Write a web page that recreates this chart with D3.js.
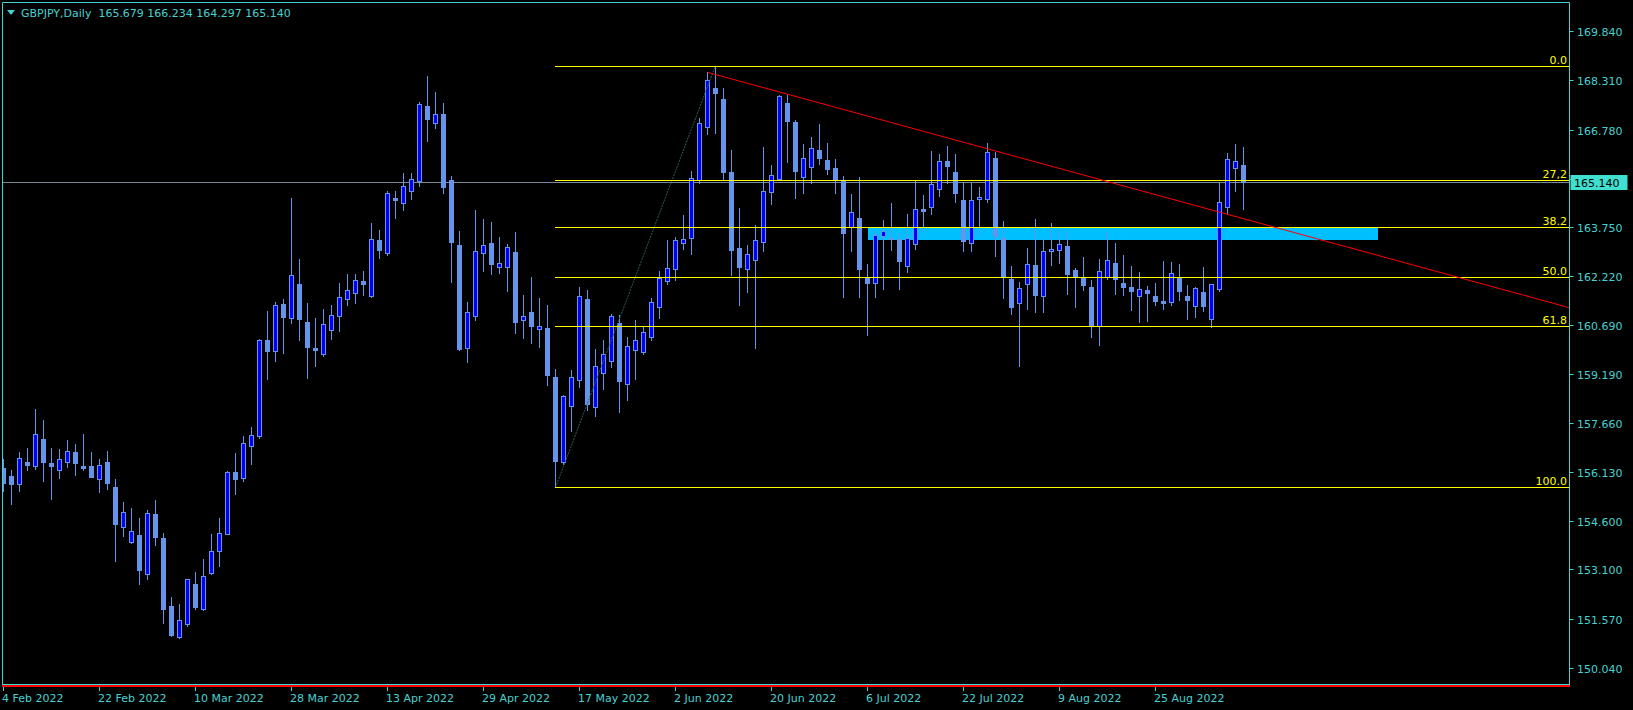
<!DOCTYPE html>
<html><head><meta charset="utf-8">
<script src="https://cdn.jsdelivr.net/npm/d3@7"></script>
<style>html,body{margin:0;padding:0;background:#000;overflow:hidden}</style>
</head><body><svg id="c" width="1633" height="710"></svg>
<script>
const chartTitle = "GBPJPY,Daily";
const openP = [
156.24,156.01,155.77,156.44,156.33,157.16,156.41,156.18,156.43,156.75,
156.32,156.32,155.92,156.44,155.66,154.43,153.96,154.17,152.97,154.83,
154.08,151.96,151.01,151.41,152.65,151.88,152.99,153.68,154.21,156.13,
155.93,156.95,157.26,160.23,159.90,161.35,160.91,161.98,160.78,159.99,
159.81,160.56,160.99,161.52,161.71,162.07,161.60,163.35,162.95,164.65,
164.51,164.88,165.19,167.50,166.97,167.26,165.20,163.19,159.99,160.99,
162.95,163.25,162.52,162.52,162.97,160.87,161.11,160.57,160.61,159.09,
156.45,158.19,159.00,161.51,158.16,159.22,159.59,160.77,158.88,159.93,
159.87,160.34,161.27,162.08,162.45,163.26,163.42,165.20,166.87,168.07,
167.73,165.46,163.10,162.45,162.73,163.27,164.83,165.25,167.61,167.02,
165.31,165.62,166.15,165.83,165.59,165.17,163.76,164.03,162.17,162.02,
163.46,163.42,163.39,162.55,163.23,164.30,164.38,164.94,165.80,165.46,
164.59,163.26,164.61,164.63,165.90,163.42,162.13,161.38,161.97,162.57,
161.59,162.99,163.02,163.16,162.41,162.17,161.88,160.68,162.20,162.63,
162.01,161.88,161.61,161.79,161.60,161.45,161.43,162.16,161.60,161.30,
161.73,160.90,161.83,164.38,165.59,165.679];
const highP = [
156.53,156.19,156.75,156.88,158.09,157.75,156.88,156.85,157.13,157.00,
157.31,156.75,156.53,156.78,155.91,155.20,155.01,154.70,154.95,155.26,
154.23,152.24,152.02,152.80,153.02,153.42,154.20,154.70,156.16,156.72,
157.25,157.53,160.27,161.14,161.42,161.51,164.66,162.76,161.39,160.92,
161.20,161.32,162.01,162.29,162.29,162.38,163.88,163.66,164.87,164.87,
165.43,165.43,167.64,168.45,167.95,167.61,165.34,163.63,161.42,164.28,
164.00,163.91,163.44,163.22,163.60,161.64,162.20,161.54,161.32,159.33,
158.52,159.30,161.88,161.79,159.96,160.24,161.04,161.01,160.33,160.86,
160.67,161.55,162.38,163.35,163.44,164.12,165.48,167.13,168.56,168.77,
168.07,166.15,164.34,163.19,163.81,166.24,165.67,167.86,167.86,167.08,
166.33,166.55,166.95,166.36,165.86,165.34,164.78,165.31,162.60,163.63,
163.97,164.50,163.57,164.15,165.18,164.75,166.11,166.02,166.27,166.02,
165.15,165.12,164.99,166.36,166.08,163.94,162.54,162.03,163.10,164.00,
163.38,163.87,163.69,163.63,162.47,162.82,162.10,162.76,163.60,163.25,
162.88,162.54,162.35,161.92,162.01,162.69,162.66,162.60,161.95,161.88,
162.51,161.98,165.12,166.05,166.33,166.234];
const lowP = [
155.55,155.14,155.55,156.19,156.23,155.86,155.30,155.95,156.30,156.05,
156.19,155.97,155.52,155.61,153.37,154.15,153.93,152.66,152.81,153.87,
151.44,151.04,150.98,151.35,151.88,151.85,152.97,153.22,154.21,155.46,
155.86,156.39,157.20,159.02,159.59,159.83,160.77,160.25,159.04,159.43,
159.75,160.27,160.52,161.32,161.39,161.64,161.56,162.80,162.88,164.03,
164.28,164.62,165.03,166.43,166.83,164.82,162.05,159.93,159.56,160.87,
162.39,162.30,162.33,161.77,160.46,160.31,160.15,160.03,158.85,155.65,
156.39,157.42,158.78,158.07,157.88,158.72,159.41,158.01,158.38,159.03,
159.81,160.25,160.93,161.99,162.11,163.07,162.92,165.12,166.65,166.67,
165.20,162.26,161.32,161.74,159.99,163.01,164.47,165.22,165.78,164.66,
164.82,165.13,165.72,165.41,164.82,161.58,163.01,161.58,160.40,161.58,
161.83,163.04,161.83,162.36,163.08,163.60,164.16,164.72,165.13,164.54,
163.01,163.01,163.49,164.54,162.86,161.55,161.05,159.44,161.21,161.11,
161.11,162.58,162.64,161.68,161.27,161.80,160.34,160.09,162.14,161.68,
161.64,161.18,160.81,160.84,161.33,161.21,161.33,161.49,160.90,160.96,
161.15,160.65,161.77,164.19,164.88,164.297];
const closeP = [
155.80,155.77,156.56,156.36,157.31,156.45,156.33,156.53,156.78,156.42,
156.26,155.98,156.35,155.80,154.52,154.89,154.30,153.09,154.86,154.12,
151.88,151.05,151.53,152.80,151.94,152.90,153.67,154.23,156.13,155.91,
157.04,157.27,160.22,159.90,161.31,160.94,162.25,160.89,160.02,159.94,
160.72,161.00,161.57,161.78,162.09,161.98,163.37,163.05,164.80,164.60,
165.04,165.23,167.57,167.12,167.26,164.98,163.27,159.96,161.10,163.00,
163.19,162.61,162.63,163.13,160.81,160.98,160.68,160.68,159.16,156.48,
158.49,159.09,161.60,158.26,159.43,159.80,160.98,158.97,160.05,160.24,
160.49,161.41,162.17,162.47,163.34,163.37,165.26,166.98,168.31,167.93,
165.46,163.03,162.52,162.90,163.34,164.86,165.36,167.81,167.06,165.50,
165.89,166.20,165.91,165.56,165.25,163.57,164.21,162.45,162.02,163.51,
163.63,163.39,162.70,163.42,164.30,164.24,165.09,165.80,165.66,164.82,
163.32,164.59,164.67,166.08,163.48,162.20,161.27,161.86,162.59,161.64,
162.99,163.08,163.21,162.30,162.20,161.95,160.68,162.37,162.71,162.14,
161.89,161.77,161.82,161.71,161.46,161.40,162.31,161.77,161.49,161.85,
161.30,161.98,164.53,165.86,165.80,165.140];

const dateTickBars = [0,12,24,36,48,60,72,84,96,108,120,132,144];
const dateTickLabels = ["4 Feb 2022","22 Feb 2022","10 Mar 2022","28 Mar 2022","13 Apr 2022","29 Apr 2022","17 May 2022","2 Jun 2022","20 Jun 2022","6 Jul 2022","22 Jul 2022","9 Aug 2022","25 Aug 2022"];
const priceTicks = [169.84,168.31,166.78,165.25,163.75,162.22,160.69,159.19,157.66,156.13,154.60,153.10,151.57,150.04];
const priceTickLabels = ["169.840","168.310","166.780","165.250","163.750","162.220","160.690","159.190","157.660","156.130","154.600","153.100","151.570","150.040"];

const fibLevels = [0, 27.2, 38.2, 50, 61.8, 100];
const fibLabels = ["0.0","27,2","38.2","50.0","61.8","100.0"];
const fibAnchorBars = [69, 89];          // low bar, high bar
const trendBars = [88, 195.6];
const trendPrices = [168.56, 161.25];
const zoneBars = [108, 171.8];
const zonePrices = [163.75, 163.35];

const TXT = "#45D2D2", FONT = "DejaVu Sans, Verdana, sans-serif";
const BULL_FILL = "#0000FF", CANDLE_LINE = "#6495ED";
const svg = d3.select("#c");
const L = 2.5, R = 1569.5, T = 2.5, B = 685;

const x = d3.scaleLinear().domain([0, 155]).range([3.5, 3.5 + 155 * 8]);
const y = d3.scaleLinear().domain([150.04, 169.84]).range([667.8, 31.2]);

svg.append("rect").attr("width", 1633).attr("height", 710).attr("fill", "#000");
const defs = svg.append("defs");
defs.append("clipPath").attr("id", "plot").append("rect")
  .attr("x", 3).attr("y", 3).attr("width", R - 3.5).attr("height", B - 3);
const g = svg.append("g").attr("clip-path", "url(#plot)");

// zone rectangle (background)
g.append("rect")
  .attr("x", Math.round(x(zoneBars[0]))).attr("y", Math.round(y(zonePrices[0])))
  .attr("width", Math.round(x(zoneBars[1]) - x(zoneBars[0])))
  .attr("height", Math.round(y(zonePrices[1]) - y(zonePrices[0])))
  .attr("fill", "#00BFFF");

// bid line
const lastClose = closeP[closeP.length - 1];
const bidY = Math.round(y(lastClose)) + 0.5;
g.append("line").attr("x1", 0).attr("x2", R).attr("y1", bidY).attr("y2", bidY)
  .attr("stroke", "#778899").attr("stroke-width", 1);

// candles
const idx = d3.range(openP.length);
g.append("g").selectAll("line").data(idx).join("line")
  .attr("x1", i => Math.floor(x(i)) + 0.5).attr("x2", i => Math.floor(x(i)) + 0.5)
  .attr("y1", i => Math.round(y(highP[i]))).attr("y2", i => Math.round(y(lowP[i])) + 1)
  .attr("stroke", CANDLE_LINE).attr("stroke-width", 1);
g.append("g").selectAll("rect").data(idx).join("rect")
  .attr("x", i => Math.floor(x(i)) - 1.5)
  .attr("y", i => Math.round(y(Math.max(openP[i], closeP[i]))) + 0.5)
  .attr("width", 4)
  .attr("height", i => Math.max(0, Math.round(y(Math.min(openP[i], closeP[i]))) - Math.round(y(Math.max(openP[i], closeP[i])))))
  .attr("fill", i => closeP[i] >= openP[i] ? BULL_FILL : CANDLE_LINE)
  .attr("stroke", CANDLE_LINE).attr("stroke-width", 1);

// fibo
const fHigh = highP[fibAnchorBars[1]], fLow = lowP[fibAnchorBars[0]];
g.append("line")
  .attr("x1", x(fibAnchorBars[0])).attr("y1", y(fLow))
  .attr("x2", x(fibAnchorBars[1])).attr("y2", y(fHigh))
  .attr("stroke", "#2F5F55").attr("stroke-width", 1).attr("stroke-dasharray", "2,1");
fibLevels.forEach((lv, k) => {
  const py = Math.round(y(fHigh - lv / 100 * (fHigh - fLow))) + 0.5;
  g.append("line").attr("x1", Math.floor(x(fibAnchorBars[0]))).attr("x2", R)
    .attr("y1", py).attr("y2", py).attr("stroke", "#FFFF00").attr("stroke-width", 1);
  g.append("text").attr("x", 1567).attr("y", py - 2.5).attr("text-anchor", "end")
    .attr("fill", "#FFFF00").attr("font-family", FONT).attr("font-size", 11).text(fibLabels[k]);
});

// trend line (ray to right)
const slope = (y(trendPrices[1]) - y(trendPrices[0])) / (x(trendBars[1]) - x(trendBars[0]));
const tx0 = x(trendBars[0]), ty0 = y(trendPrices[0]);
g.append("line").attr("x1", tx0).attr("y1", ty0)
  .attr("x2", R + 20).attr("y2", ty0 + slope * (R + 20 - tx0))
  .attr("stroke", "#FF0000").attr("stroke-width", 1);

// frame
svg.append("line").attr("x1", L).attr("x2", L).attr("y1", T).attr("y2", B).attr("stroke", TXT);
svg.append("line").attr("x1", L).attr("x2", R).attr("y1", T).attr("y2", T).attr("stroke", TXT);
svg.append("line").attr("x1", R).attr("x2", R).attr("y1", T).attr("y2", B).attr("stroke", TXT);
svg.append("line").attr("x1", L).attr("x2", R).attr("y1", B - 0.5).attr("y2", B - 0.5).attr("stroke", TXT);
svg.append("rect").attr("x", 2).attr("y", B).attr("width", R - 1.5).attr("height", 2).attr("fill", "#FF0000");

// price axis
priceTicks.forEach((v, k) => {
  const py = Math.round(y(v)) + 0.5;
  svg.append("line").attr("x1", R).attr("x2", R + 4).attr("y1", py).attr("y2", py).attr("stroke", TXT);
  if (Math.abs(y(v) - y(lastClose)) > 12)
    svg.append("text").attr("x", 1577).attr("y", py + 4).attr("fill", TXT)
      .attr("font-family", FONT).attr("font-size", 11).text(priceTickLabels[k]);
});
// current price box
svg.append("rect").attr("x", R + 1).attr("y", bidY - 7.5).attr("width", 57).attr("height", 15).attr("fill", "#40E0D0");
svg.append("text").attr("x", 1574).attr("y", bidY + 4).attr("fill", "#000")
  .attr("font-family", FONT).attr("font-size", 11).text(lastClose.toFixed(3));

// time axis
dateTickBars.forEach((b, k) => {
  const px = Math.floor(x(b)) + 0.5;
  svg.append("line").attr("x1", px).attr("x2", px).attr("y1", B + 2).attr("y2", B + 6).attr("stroke", TXT);
  svg.append("text").attr("x", px - 1.5).attr("y", 701.5).attr("fill", TXT)
    .attr("font-family", FONT).attr("font-size", 11).text(dateTickLabels[k]);
});

// header
svg.append("path").attr("d", "M7,10 L15,10 L11,15 Z").attr("fill", TXT);
svg.append("text").attr("x", 21).attr("y", 16.5).attr("fill", TXT)
  .attr("font-family", FONT).attr("font-size", 11)
  .attr("xml:space", "preserve").style("white-space", "pre")
  .text(chartTitle + "  " + [openP, highP, lowP, closeP].map(a => a[a.length - 1].toFixed(3)).join(" "));
</script></body></html>
